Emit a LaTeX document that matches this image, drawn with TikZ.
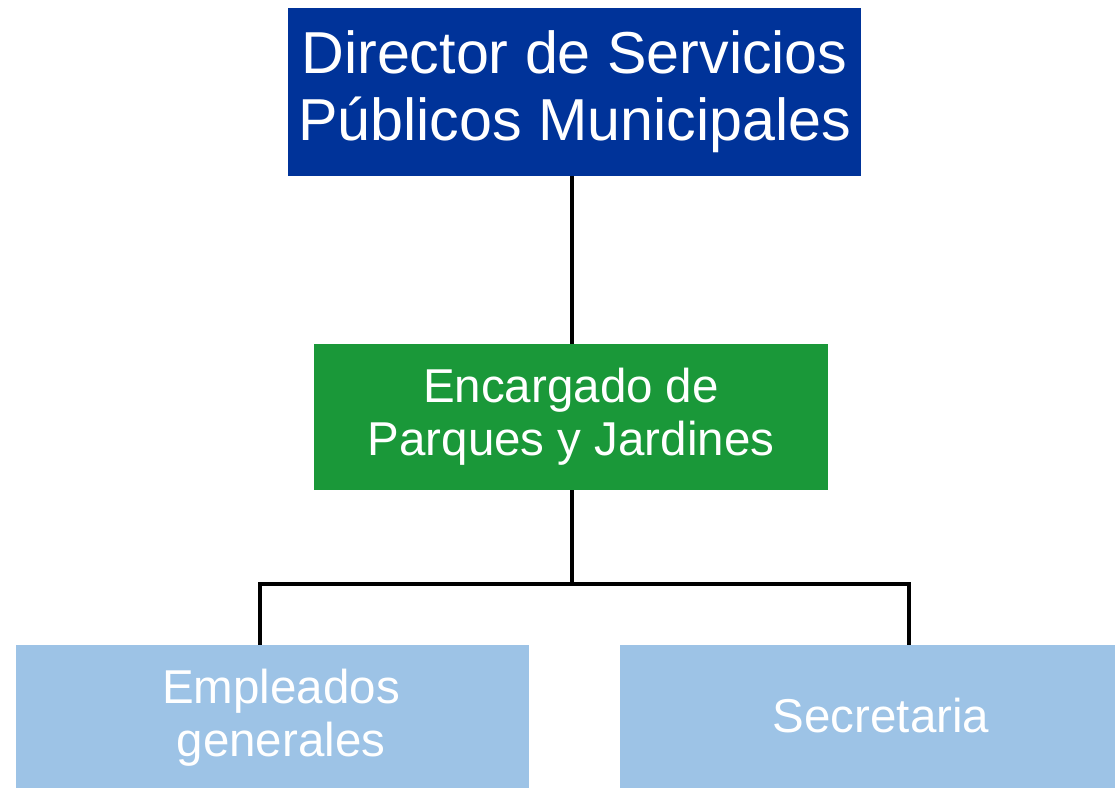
\documentclass[tikz,border=0pt]{standalone}
\usepackage{fontspec}
\setmainfont{Liberation Sans}
\definecolor{dirblue}{HTML}{003399}
\definecolor{encgreen}{HTML}{1A9839}
\definecolor{leafblue}{HTML}{9DC3E6}
\begin{document}
\begin{tikzpicture}[x=1pt,y=-1pt,
  box/.style={rectangle, inner sep=0pt, draw=none, text=white, align=center},
  bigtxt/.style={font=\fontsize{59.2}{67}\selectfont},
  midtxt/.style={font=\fontsize{47.5}{53}\selectfont},
  link/.style={draw=black, line width=3.3pt}]
\useasboundingbox (0,0) rectangle (1115,788);
\node[box, bigtxt, fill=dirblue, minimum width=573pt, minimum height=168pt] (dir) at (574.5,92) {Director de Servicios\\P\'ublicos Municipales};
\node[box, midtxt, fill=encgreen, minimum width=514pt, minimum height=146pt] (enc) at (571,417) {Encargado de\\Parques y Jardines};
\node[box, fill=leafblue, minimum width=513pt, minimum height=143pt] (emp) at (272.5,716.5) {};
\node[box, fill=leafblue, minimum width=522pt, minimum height=143pt] (sec) at (881,716.5) {};
\node[box, midtxt] (empT) at (281,718) {Empleados\\generales};
\node[box, midtxt] (secT) at (881,716) {Secretaria};
\coordinate (bus) at (572,584);
\coordinate (busL) at (260,584);
\coordinate (busR) at (909,584);
\draw[link] (dir.south -| bus) -- (enc.north -| bus);
\draw[link] (enc.south -| bus) -- (bus);
\draw[link, line cap=rect] (busL) -- (busR);
\draw[link] (busL) -- (busL |- emp.north);
\draw[link] (busR) -- (busR |- sec.north);
\end{tikzpicture}
\end{document}
